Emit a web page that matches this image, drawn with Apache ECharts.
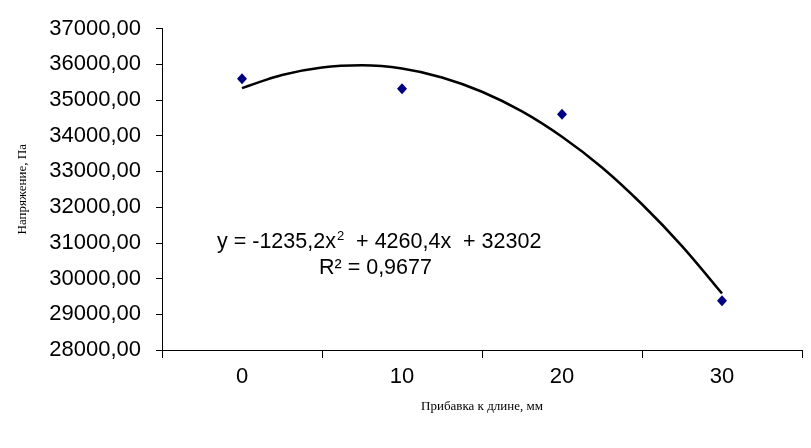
<!DOCTYPE html>
<html>
<head>
<meta charset="utf-8">
<script src="https://cdn.jsdelivr.net/npm/echarts@6/dist/echarts.min.js"></script>
<style>
  html, body { margin: 0; padding: 0; background: #fff; }
  #chart { width: 811px; height: 448px; }
</style>
</head>
<body>
<div id="chart"></div>
<script>
  // measured points (прибавка, мм -> напряжение, Па)
  const categories = ['0', '10', '20', '30']
  const pointX = [0, 10, 20, 30]
  const pointY = [35590, 35310, 34600, 29380]

  // trend curve
  const trendX = [0, 2.5, 5, 7.5, 10, 12.5, 15, 17.5, 20, 22.5, 25, 27.5, 30]
  const trendY = [35330, 35700, 35910, 35970, 35880, 35630, 35230, 34680, 33970, 33110, 32080, 30910, 29580]

  const fmt = v => v.toFixed(2).replace('.', ',')

  const chart = echarts.init(document.getElementById('chart'))

  const option = {
    animation: false,
    backgroundColor: '#fff',
    grid: { left: 162, right: 9, top: 28.5, bottom: 98 },
    xAxis: [
      {
        type: 'category',
        data: categories,
        boundaryGap: true,
        name: 'Прибавка к длине, мм',
        nameLocation: 'middle',
        nameGap: 50,
        nameTextStyle: { fontFamily: 'Liberation Serif', fontSize: 13, color: '#000' },
        axisLine: { onZero: false, lineStyle: { color: '#000', width: 1 } },
        axisTick: { show: true, length: 8, inside: false, lineStyle: { color: '#000' } },
        axisLabel: { fontFamily: 'Liberation Sans', fontSize: 22, color: '#000', margin: 16 },
        splitLine: { show: false }
      },
      {
        type: 'value',
        min: -5,
        max: 35,
        show: false
      }
    ],
    yAxis: {
      type: 'value',
      min: 28000,
      max: 37000,
      interval: 1000,
      name: 'Напряжение, Па',
      nameLocation: 'middle',
      nameGap: 133,
      nameMoveOverlap: false,
      nameRotate: 90,
      nameTextStyle: { fontFamily: 'Liberation Serif', fontSize: 13, color: '#000' },
      axisLine: { show: true, onZero: false, lineStyle: { color: '#000', width: 1 } },
      axisTick: { show: true, length: 6, lineStyle: { color: '#000' } },
      axisLabel: { fontFamily: 'Liberation Sans', fontSize: 22, color: '#000', margin: 21, formatter: fmt },
      splitLine: { show: false }
    },
    series: [
      {
        name: 'тренд',
        type: 'line',
        xAxisIndex: 1,
        smooth: 0.3,
        showSymbol: false,
        lineStyle: { color: '#000', width: 2.5 },
        data: trendX.map((x, i) => [x, trendY[i]]),
        z: 2
      },
      {
        name: 'данные',
        type: 'scatter',
        xAxisIndex: 1,
        symbol: 'diamond',
        symbolSize: [10, 11],
        itemStyle: { color: '#000080', opacity: 1 },
        data: pointX.map((x, i) => [x, pointY[i]]),
        z: 3
      }
    ],
    graphic: [
      {
        type: 'text',
        left: 217,
        top: 228,
        style: {
          text: '{t|y = -1235,2x}{s|2}{t|  + 4260,4x  + 32302}',
          rich: {
            t: { fontFamily: 'Liberation Sans', fontSize: 21.5, fill: '#000', lineHeight: 28 },
            s: { fontFamily: 'Liberation Sans', fontSize: 13, fill: '#000', lineHeight: 28, verticalAlign: 'top', padding: [2, 0, 0, 1] }
          }
        }
      },
      {
        type: 'text',
        left: 319,
        top: 257,
        style: {
          text: 'R² = 0,9677',
          fontFamily: 'Liberation Sans',
          fontSize: 21.5,
          fill: '#000'
        }
      }
    ]
  }

  chart.setOption(option)
</script>
</body>
</html>
